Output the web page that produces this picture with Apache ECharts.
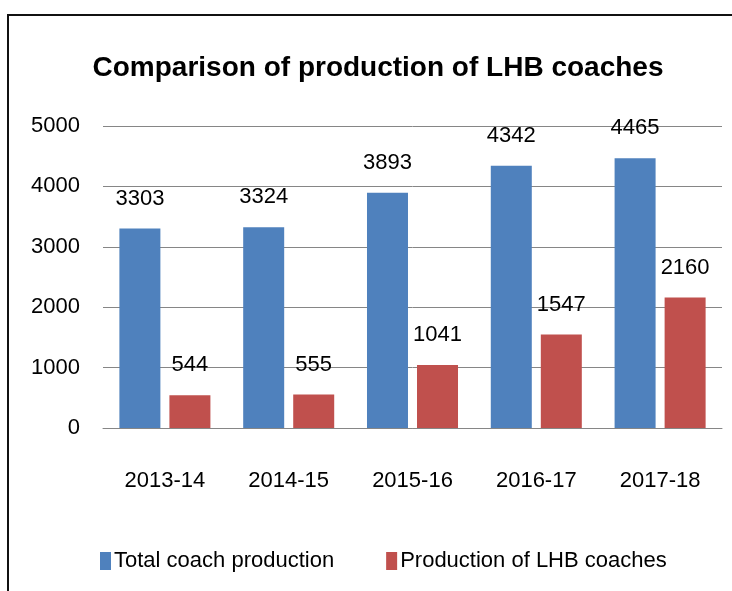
<!DOCTYPE html>
<html><head><meta charset="utf-8">
<script src="https://cdn.jsdelivr.net/npm/echarts@6/dist/echarts.min.js"></script>
<style>html,body{margin:0;padding:0;background:#fff}#c{width:732px;height:591px}</style>
</head><body><div id="c"></div>
<script>
const categories = ['2013-14','2014-15','2015-16','2016-17','2017-18'];
const totalProduction = [3303, 3324, 3893, 4342, 4465];
const lhbProduction = [544, 555, 1041, 1547, 2160];
const seriesNames = ['Total coach production','Production of LHB coaches'];
const yTicks = {min: 0, max: 5000, interval: 1000};

const FONT = '"Liberation Sans", Arial, sans-serif';
const FS = 22;
const chart = echarts.init(document.getElementById('c'), null, {renderer: 'canvas'});
chart.setOption({
  animation: false,
  backgroundColor: '#ffffff',
  title: {
    text: 'Comparison of production of LHB coaches',
    left: 373, top: 49, textAlign: 'center',
    textStyle: {fontFamily: FONT, fontWeight: 'bold', fontSize: 28, color: '#000'}
  },
  legend: {
    left: 95, top: 545,
    itemWidth: 11, itemHeight: 18, itemGap: 52,
    icon: 'rect',
    textStyle: {fontFamily: FONT, fontSize: FS, color: '#000', padding: [0,0,0,-2]},
    data: seriesNames
  },
  grid: {left: 103, right: 10, top: 126, bottom: 163, containLabel: false},
  xAxis: {
    type: 'category', data: categories,
    axisLine: {lineStyle: {color: '#868686', width: 1}},
    axisTick: {show: false},
    axisLabel: {fontFamily: FONT, fontSize: FS, color: '#000', margin: 42, interval: 0}
  },
  yAxis: {
    type: 'value', min: yTicks.min, max: yTicks.max, interval: yTicks.interval,
    axisLine: {show: false}, axisTick: {show: false},
    splitLine: {lineStyle: {color: '#868686', width: 1}},
    axisLabel: {fontFamily: FONT, fontSize: FS, color: '#000', margin: 23,
      formatter: function (v) { return String(v); }}
  },
  graphic: [{
    type: 'polyline', silent: true,
    shape: {points: [[8,591],[8,15],[732,15]]},
    style: {stroke: '#111', lineWidth: 2, fill: null}
  }],
  series: [
    {name: seriesNames[0], type: 'bar', data: totalProduction, barWidth: 41, barGap: '22%',
     itemStyle: {color: '#4F81BD'},
     label: {show: true, position: 'top', distance: 19, fontFamily: FONT, fontSize: FS, color: '#000'}},
    {name: seriesNames[1], type: 'bar', data: lhbProduction, barWidth: 41,
     itemStyle: {color: '#C0504D'},
     label: {show: true, position: 'top', distance: 19, fontFamily: FONT, fontSize: FS, color: '#000'}}
  ]
});
</script></body></html>
